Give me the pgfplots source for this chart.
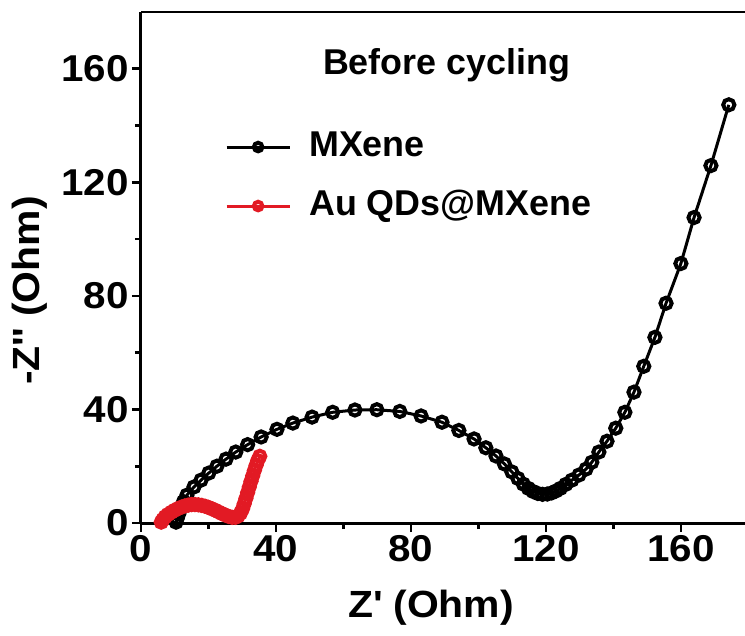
\documentclass[border=0pt]{standalone}
\usepackage{fontspec}
\setmainfont{Liberation Sans}
\newfontfamily\axisfont{Liberation Sans}[FakeStretch=1.08]
\usepackage{pgfplots}
\pgfplotsset{compat=1.18}
\definecolor{myred}{RGB}{226,26,36}
\begin{document}
\begin{tikzpicture}
\begin{axis}[
  scale only axis, width=604bp, height=511bp,
  xmin=0, xmax=179, ymin=0, ymax=180,
  axis lines=left, axis line style={-, line width=3bp},
  xtick={0,40,80,120,160}, ytick={0,40,80,120,160},
  minor tick num=1,
  tick align=outside, major tick length=9bp, minor tick length=6bp,
  every tick/.style={black, line width=2.6bp},
  tick label style={font=\axisfont\bfseries\fontsize{37.5}{40}\selectfont},
  /pgf/number format/assume math mode=true,
  xlabel={Z\textquotesingle{} (Ohm)},
  ylabel={-Z\textquotesingle\textquotesingle{} (Ohm)},
  label style={font=\axisfont\bfseries\fontsize{38}{40}\selectfont},
  xlabel style={at={(axis description cs:0.48,-0.166)}, anchor=center},
  ylabel style={at={(axis description cs:-0.1838,0.455)}, anchor=center},
  legend style={at={(axis description cs:0.134,0.678)}, anchor=west, draw=none, fill=none,
    font=\bfseries\fontsize{36}{40}\selectfont, row sep=27bp, column sep=18bp,
    nodes={inner sep=0pt, text height=25bp, text depth=7bp}},
  legend cell align=left,
  legend image code/.code={\draw[mark repeat=2, mark phase=2, #1, mark size=4.3bp]
     plot coordinates {(0bp,0bp) (31.5bp,0bp) (63bp,0bp)};},
]
\addplot[black, line width=3bp, mark=o, mark size=5.6bp,
  mark options={line width=4bp, fill=white}] coordinates {
(10.4,0.3) (10.7,1.5) (11.2,3.2) (11.8,5.3) (12.6,7.5) (13.6,9.8)
(15.7,12.7) (17.8,15.1) (20.1,17.6) (22.5,20.0) (25.2,22.5) (28.1,25.0)
(31.6,27.6) (35.6,30.3) (40.3,33.0) (45.0,35.2) (50.7,37.3) (56.8,39.0)
(63.4,39.8) (69.9,39.9) (76.7,39.3) (83.0,37.7) (89.2,35.5) (94.2,32.6)
(98.7,29.6) (102.2,26.5) (105.2,23.6) (107.7,20.8) (109.9,18.0) (111.7,15.7)
(113.3,13.7) (114.8,12.2) (116.2,11.1) (117.6,10.4) (119.0,10.1) (120.4,10.2)
(121.7,10.6) (123.0,11.3) (124.3,12.2) (125.9,13.6) (127.7,15.1) (129.8,16.9)
(131.9,19.0) (133.6,21.4) (135.7,25.0) (138.1,28.8) (140.7,33.4) (143.4,39.0)
(146.1,46.1) (149.0,55.2) (152.3,65.4) (155.6,77.4) (160.0,91.4) (163.9,107.6)
(168.9,125.9) (174.2,147.3)
};
\addlegendentry{MXene}
\addplot[myred, line width=3bp, mark=o, mark size=5.6bp,
  mark options={line width=4bp, fill=white}] coordinates {
(6.0,0.3) (6.5,1.2) (7.2,2.2) (8.0,3.0) (9.0,3.8) (10,4.5) (11,5.1) (12,5.6)
(13,6.0) (14,6.3) (15,6.5) (16,6.5) (17,6.4) (18,6.2) (19,5.9) (20,5.5)
(21,5.0) (22,4.5) (23,3.9) (24,3.3) (25,2.8) (26,2.3) (27,2.0) (28,2.0)
(28.8,2.5) (29.5,3.5) (30.1,5.0) (30.6,6.8) (31.1,8.7) (31.6,10.7) (32.1,12.7)
(32.6,14.7) (33.1,16.6) (33.6,18.5) (34.1,20.3) (34.6,22.0) (35.2,23.5)
};
\addlegendentry{Au QDs@MXene}
\draw[line width=3bp] (axis description cs:0,1) -- (axis description cs:1,1);
\node[font=\bfseries\fontsize{36}{40}\selectfont] at (axis description cs:0.506,0.895) {Before cycling};
\end{axis}
\pgfresetboundingbox
\useasboundingbox ([shift={(-141bp,-113bp)}]current axis.south west) rectangle ([shift={(0bp,12bp)}]current axis.north east);
\end{tikzpicture}
\end{document}
